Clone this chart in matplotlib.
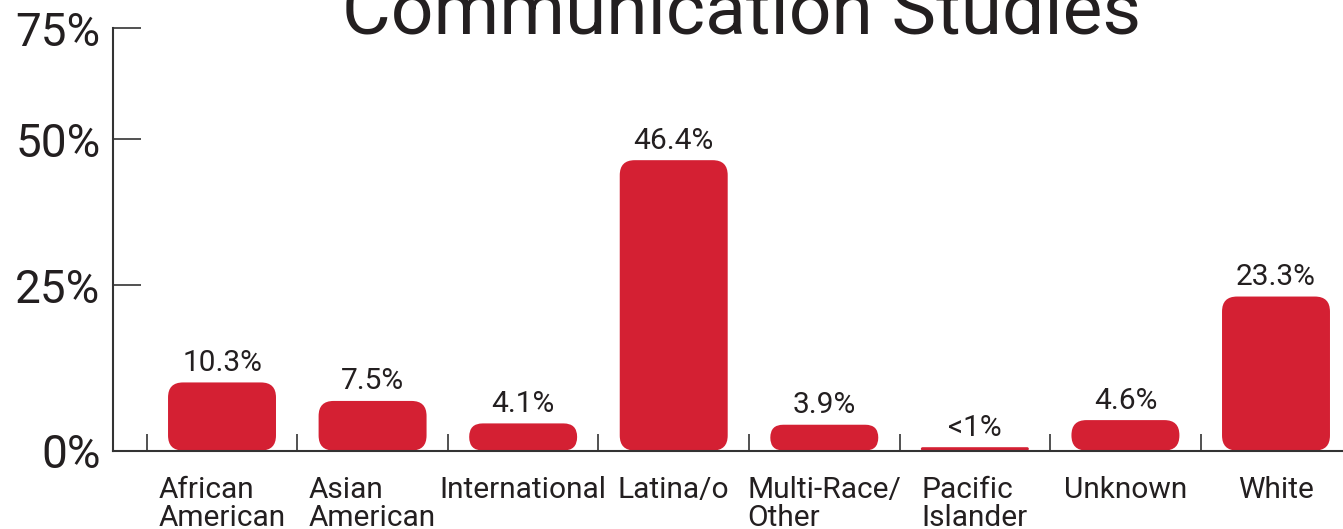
import numpy as np
import matplotlib
matplotlib.use("Agg")
import matplotlib.pyplot as plt
from matplotlib.patches import FancyBboxPatch
from matplotlib.transforms import IdentityTransform

# data
categories = ["African\nAmerican", "Asian\nAmerican", "International", "Latina/o",
              "Multi-Race/\nOther", "Pacific\nIslander", "Unknown", "White"]
values = [10.3, 7.5, 4.1, 46.4, 3.9, 0.5, 4.6, 23.3]
value_labels = ["10.3%", "7.5%", "4.1%", "46.4%", "3.9%", "<1%", "4.6%", "23.3%"]
yticks = [0, 25, 50, 75]
ytick_labels = ["0%", "25%", "50%", "75%"]
# the printed axis is not linear: relative height of each tick
ytick_heights = [0, 165, 311, 422]

RED = "#D42033"
INK = "#231F20"

plt.rcParams['font.family'] = ['Roboto', 'DejaVu Sans']


def fwd(v):
    return np.interp(v, yticks, ytick_heights)


def inv(v):
    return np.interp(v, ytick_heights, yticks)


fig = plt.figure(figsize=(13.43, 5.29), dpi=100)
ax = fig.add_axes([113 / 1343, 1 - 450.5 / 529, 1 - 113 / 1343, (450.5 - 28) / 529])
ax.set_yscale('function', functions=(fwd, inv))
ax.set_xlim(-0.724, 7.445)
ax.set_ylim(0, 75)

x = np.arange(len(categories))
bw = 0.717
bars = ax.bar(x, values, width=bw, color=RED)

# swap the plain bars for rounded ones (in pixel space so corners stay round)
for b in bars:
    bb = b.get_window_extent()
    r = min(15, bb.height / 2, bb.width / 2)
    p = FancyBboxPatch((bb.x0 + r, bb.y0 + r), bb.width - 2 * r, bb.height - 2 * r,
                       boxstyle="round,pad=%f" % r, transform=IdentityTransform(),
                       facecolor=RED, edgecolor="none", clip_on=False, zorder=2)
    b.set_visible(False)
    ax.add_patch(p)
ax.set_xlim(-0.724, 7.445)
ax.set_ylim(0, 75)

for xi, v, lab in zip(x, values, value_labels):
    ax.annotate(lab, (xi, v), xytext=(0, 4), textcoords="offset points",
                ha="center", va="bottom", fontsize=21.5, color=INK)

# axes styling
for s in ["top", "right"]:
    ax.spines[s].set_visible(False)
for s in ["left", "bottom"]:
    ax.spines[s].set_color("#333333")
    ax.spines[s].set_linewidth(1.5)
    ax.spines[s].set_zorder(3)

ax.set_yticks(yticks)
ax.set_yticklabels(ytick_labels)
ax.tick_params(axis="y", direction="in", length=20, width=1.2, color="#333333",
               labelsize=33, labelcolor=INK, pad=9)

ax.set_xticks(x - 0.5)
ax.set_xticklabels([])
ax.tick_params(axis="x", which="major", direction="in", length=12.5, width=1.2, color="#333333")
ax.set_xticks(x, minor=True)
ax.set_xticklabels(categories, minor=True)
ax.tick_params(axis="x", which="minor", length=0, pad=18, labelsize=21.5, labelcolor=INK)
for t in ax.get_xticklabels(minor=True):
    t.set_ha("center")
    t.set_multialignment("left")
    t.set_linespacing(1.0)

fig.text(742 / 1343, 1 - 34 / 529, "Communication Studies", ha="center", va="baseline",
         fontsize=54, color=INK)

fig.savefig("out.png", dpi=100)
